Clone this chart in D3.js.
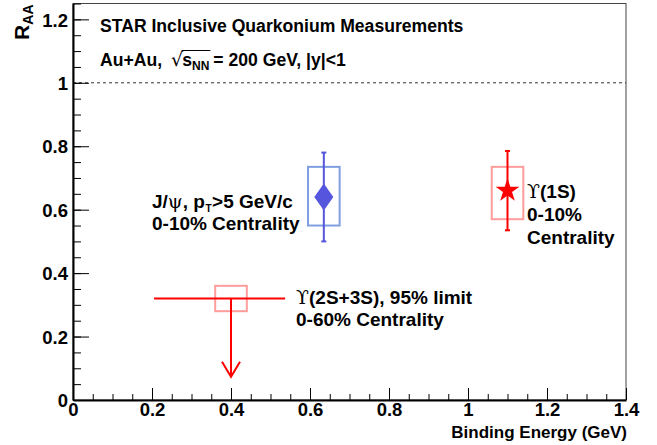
<!DOCTYPE html>
<html>
<head>
<meta charset="utf-8">
<script src="https://cdn.jsdelivr.net/npm/d3@7"></script>
<style>
  html, body { margin: 0; padding: 0; background: #fff; }
  svg { display: block; }
  text { font-family: "Liberation Sans", Arial, Helvetica, sans-serif; font-weight: bold; fill: #000; white-space: pre; }
</style>
</head>
<body>
<svg id="chart" width="657" height="445"></svg>
<script>
// ---------------- data ----------------
const categories    = ["J/psi", "Upsilon(1S)", "Upsilon(2S+3S)"];
const bindingEnergy = [0.635, 1.10, 0.40];
const raa           = [0.64, 0.66, 0.32];
const statLow       = [0.50, 0.535, null];
const statHigh      = [0.78, 0.785, null];
const sysLow        = [0.55, 0.57, 0.28];
const sysHigh       = [0.735, 0.735, 0.36];
const sysHalfWidth  = [0.04, 0.04, 0.04];
const limitXLow     = 0.205;   // horizontal extent of Upsilon(2S+3S) limit
const limitXHigh    = 0.537;
const limitArrowTo  = 0.073;
const referenceLine = 1.0;

const xMajorTicks = [0, 0.2, 0.4, 0.6, 0.8, 1, 1.2, 1.4];
const yMajorTicks = [0, 0.2, 0.4, 0.6, 0.8, 1, 1.2];
const xMinorTicks = d3.range(0, 1.4001, 0.05).map(v => +v.toFixed(2));
const yMinorTicks = d3.range(0, 1.2501, 0.05).map(v => +v.toFixed(2));

const xDomain = [0, 1.4];
const yDomain = [0, 1.25];

// ---------------- layout ----------------
const svg = d3.select("#chart");
const L = 73, R = 626, T = 3.5, B = 400;
const x = d3.scaleLinear().domain(xDomain).range([L, R]);
const y = d3.scaleLinear().domain(yDomain).range([B, T]);

const blue = "#5555dd", blueBox = "#7f9fe0";
const red = "#ff0000", redBox = "#ff9c9c";

// frame (top/right)
svg.append("rect").attr("x", L).attr("y", T).attr("width", R - L).attr("height", B - T)
  .attr("fill", "none").attr("stroke", "#444").attr("stroke-width", 1);

// dashed reference line
svg.append("line").attr("x1", x(0)).attr("x2", x(1.4)).attr("y1", y(referenceLine)).attr("y2", y(referenceLine))
  .attr("stroke", "#333").attr("stroke-width", 1).attr("stroke-dasharray", "3,3");

// ---------------- axes ----------------
const fmt = d => d3.format("~g")(d);
const xMinor = svg.append("g").attr("transform", `translate(0,${B})`)
  .call(d3.axisBottom(x).tickValues(xMinorTicks).tickSize(-6).tickSizeOuter(0).tickFormat(""));
const xMajor = svg.append("g").attr("transform", `translate(0,${B})`)
  .call(d3.axisBottom(x).tickValues(xMajorTicks).tickSize(-12).tickSizeOuter(0).tickPadding(3).tickFormat(fmt));
const yMinor = svg.append("g").attr("transform", `translate(${L},0)`)
  .call(d3.axisLeft(y).tickValues(yMinorTicks).tickSize(-8).tickSizeOuter(0).tickFormat(""));
const yMajor = svg.append("g").attr("transform", `translate(${L},0)`)
  .call(d3.axisLeft(y).tickValues(yMajorTicks).tickSize(-16).tickSizeOuter(0).tickPadding(5).tickFormat(fmt));

[xMinor, xMajor, yMinor, yMajor].forEach(g => {
  g.selectAll(".tick line").attr("stroke", "#000").attr("stroke-width", 1);
  g.select(".domain").attr("stroke", "#000").attr("stroke-width", 2);
  g.selectAll("text").attr("font-size", 18.5).attr("font-family", "Liberation Sans, Arial, sans-serif")
    .attr("font-weight", "bold").attr("fill", "#000");
});
xMinor.select(".domain").remove();
yMinor.select(".domain").remove();
yMajor.selectAll(".tick text").attr("dy", "0.36em");
xMajor.selectAll(".tick text").attr("dy", "0.72em");

// axis titles
svg.append("text").attr("x", R + 1).attr("y", 438).attr("text-anchor", "end")
  .attr("font-size", 17).text("Binding Energy (GeV)");
const yt = svg.append("text").attr("transform", `translate(29,${T + 1}) rotate(-90)`)
  .attr("text-anchor", "end").attr("font-size", 21);
yt.append("tspan").text("R");
yt.append("tspan").attr("font-size", 14).attr("dy", 4).text("AA");

// ---------------- rich text helper ----------------
function rich(x0, y0, segs) {
  let cx = x0;
  const out = [];
  segs.forEach(s => {
    const t = svg.append("text").attr("x", cx).attr("y", y0 + (s.dy || 0))
      .attr("font-size", s.size || 19).text(s.t);
    if (s.family) t.style("font-family", s.family);
    if (s.weight) t.style("font-weight", s.weight);
    const w = t.node().getComputedTextLength();
    out.push({ x: cx, w });
    cx += w + (s.gap || 0);
  });
  return out;
}

const HS = 17.6; // header size
const LS = 19;   // label size

// header texts
rich(100, 32, [{ t: "STAR Inclusive Quarkonium Measurements", size: HS }]);
const h2 = rich(100, 66, [
  { t: "Au+Au,", size: HS, gap: 9 },
  { t: "√", size: 19, weight: "normal", family: "DejaVu Sans, sans-serif", gap: -1 },
  { t: "s", size: HS },
  { t: "NN", size: 12, dy: 4, gap: 4 },
  { t: "= 200 GeV, |y|<1", size: HS }
]);
svg.append("line").attr("x1", h2[1].x + h2[1].w - 1.5).attr("x2", h2[3].x + h2[3].w + 1)
  .attr("y1", 66 - 15.5).attr("y2", 66 - 15.5).attr("stroke", "#000").attr("stroke-width", 1);

// J/psi label
const jl = rich(152, 208, [
  { t: "J/", size: LS },
  { t: "ψ", size: LS, weight: "normal", family: "DejaVu Serif, serif" },
  { t: ", p", size: LS, gap: 0.5 },
  { t: "T", size: 10, dy: 4, gap: 0.5 },
  { t: ">5 GeV/c", size: LS }
]);
rich(152, 230, [{ t: "0-10%", size: LS, gap: 5 }, { t: "Centrality", size: LS }]);

// Upsilon(1S) label
rich(527, 198, [
  { t: "ϒ", size: 19, weight: "normal", family: "DejaVu Serif, serif" },
  { t: "(1S)", size: LS }
]);
rich(527, 221, [{ t: "0-10%", size: LS }]);
rich(527, 244, [{ t: "Centrality", size: LS }]);

// Upsilon(2S+3S) label
rich(296, 304, [
  { t: "ϒ", size: 19, weight: "normal", family: "DejaVu Serif, serif" },
  { t: "(2S+3S), 95% limit", size: LS }
]);
rich(296, 326, [{ t: "0-60% Centrality", size: LS }]);

// ---------------- marks ----------------
const marks = svg.append("g");
const colors = [blue, red, red];
const boxColors = [blueBox, redBox, redBox];

// systematic boxes
categories.forEach((c, i) => {
  marks.append("rect")
    .attr("x", x(bindingEnergy[i] - sysHalfWidth[i]))
    .attr("y", y(sysHigh[i]))
    .attr("width", x(bindingEnergy[i] + sysHalfWidth[i]) - x(bindingEnergy[i] - sysHalfWidth[i]))
    .attr("height", y(sysLow[i]) - y(sysHigh[i]))
    .attr("fill", "none").attr("stroke", boxColors[i]).attr("stroke-width", 2);
});

// statistical error bars (J/psi and Upsilon(1S))
[0, 1].forEach(i => {
  const cx = x(bindingEnergy[i]);
  marks.append("line").attr("x1", cx).attr("x2", cx).attr("y1", y(statLow[i])).attr("y2", y(statHigh[i]))
    .attr("stroke", colors[i]).attr("stroke-width", 2);
  [statLow[i], statHigh[i]].forEach(v => {
    marks.append("line").attr("x1", cx - 2.5).attr("x2", cx + 2.5).attr("y1", y(v)).attr("y2", y(v))
      .attr("stroke", colors[i]).attr("stroke-width", 2);
  });
});

// J/psi diamond
{
  const cx = x(bindingEnergy[0]), cy = y(raa[0]);
  marks.append("path")
    .attr("d", `M${cx},${cy - 13.5}L${cx + 9.5},${cy}L${cx},${cy + 13.5}L${cx - 9.5},${cy}Z`)
    .attr("fill", blue);
}
// Upsilon(1S) star
marks.append("path")
  .attr("transform", `translate(${x(bindingEnergy[1])},${y(raa[1])})`)
  .attr("d", d3.symbol(d3.symbolStar, 175)())
  .attr("fill", red);

// Upsilon(2S+3S) upper limit
{
  const i = 2, cx = x(bindingEnergy[i]), cy = y(raa[i]);
  marks.append("line").attr("x1", x(limitXLow)).attr("x2", x(limitXHigh)).attr("y1", cy).attr("y2", cy)
    .attr("stroke", red).attr("stroke-width", 2);
  const ty = y(limitArrowTo);
  marks.append("line").attr("x1", cx).attr("x2", cx).attr("y1", cy).attr("y2", ty)
    .attr("stroke", red).attr("stroke-width", 2);
  marks.append("path").attr("d", `M${cx - 9},${ty - 15}L${cx},${ty}L${cx + 9},${ty - 15}`)
    .attr("fill", "none").attr("stroke", red).attr("stroke-width", 2);
}
</script>
</body>
</html>
